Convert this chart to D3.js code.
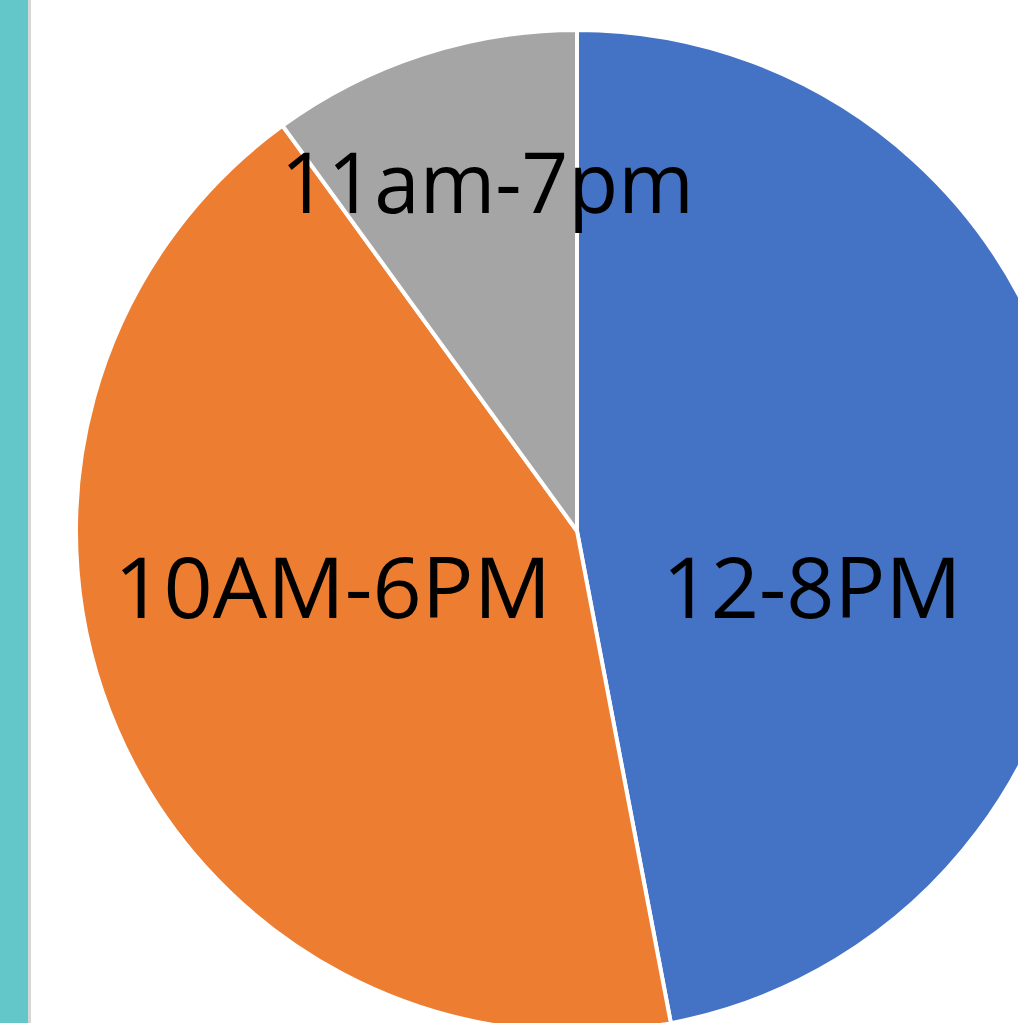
<!DOCTYPE html>
<html>
<head>
<meta charset="utf-8">
<script src="https://cdn.jsdelivr.net/npm/d3@7"></script>
<style>
  html, body { margin: 0; padding: 0; background: #fff; overflow: hidden; }
  svg { display: block; }
</style>
</head>
<body>
<svg id="chart" width="1018" height="1023"></svg>
<script>
// Data
const categories = ["12-8PM", "10AM-6PM", "11am-7pm"];
const values = [47, 43, 10];
const colors = ["#4472C4", "#ED7D31", "#A5A5A5"];

// Label layout tweaks (pixel offsets from arc centroid) and fitted widths
const labelOffsets = [[-6, 110], [-14, -13], [21, 22]];
const labelWidths = [299, 437, 413];
const labelRadii = [242, 251, 358];

const W = 1018, H = 1023;
const cx = 577, cy = 531, R = 501;

const svg = d3.select("#chart");

// Left sidebar band
svg.append("rect").attr("x", 0).attr("y", 0).attr("width", 28).attr("height", H).attr("fill", "#63C7C9");
svg.append("rect").attr("x", 28).attr("y", 0).attr("width", 3).attr("height", H).attr("fill", "#D6D6D6");

const g = svg.append("g").attr("transform", `translate(${cx},${cy})`);

const pie = d3.pie().sort(null).value(d => d)(values);
const arc = d3.arc().innerRadius(0).outerRadius(R);

g.selectAll("path.slice")
  .data(pie)
  .join("path")
  .attr("class", "slice")
  .attr("d", arc)
  .attr("fill", (d, i) => colors[i])
  .attr("stroke", "#fff")
  .attr("stroke-width", 4)
  .attr("stroke-linejoin", "round");

g.selectAll("text.lbl")
  .data(pie)
  .join("text")
  .attr("class", "lbl")
  .attr("transform", (d, i) => {
    const a = d3.arc().innerRadius(labelRadii[i]).outerRadius(labelRadii[i]);
    const [x, y] = a.centroid(d);
    return `translate(${x + labelOffsets[i][0]},${y + labelOffsets[i][1]})`;
  })
  .attr("text-anchor", "middle")
  .attr("font-family", "'Open Sans', 'Noto Sans', sans-serif")
  .attr("font-size", 85)
  .attr("fill", "#000")
  .attr("textLength", (d, i) => labelWidths[i])
  .attr("lengthAdjust", "spacingAndGlyphs")
  .text((d, i) => categories[i]);
</script>
</body>
</html>
